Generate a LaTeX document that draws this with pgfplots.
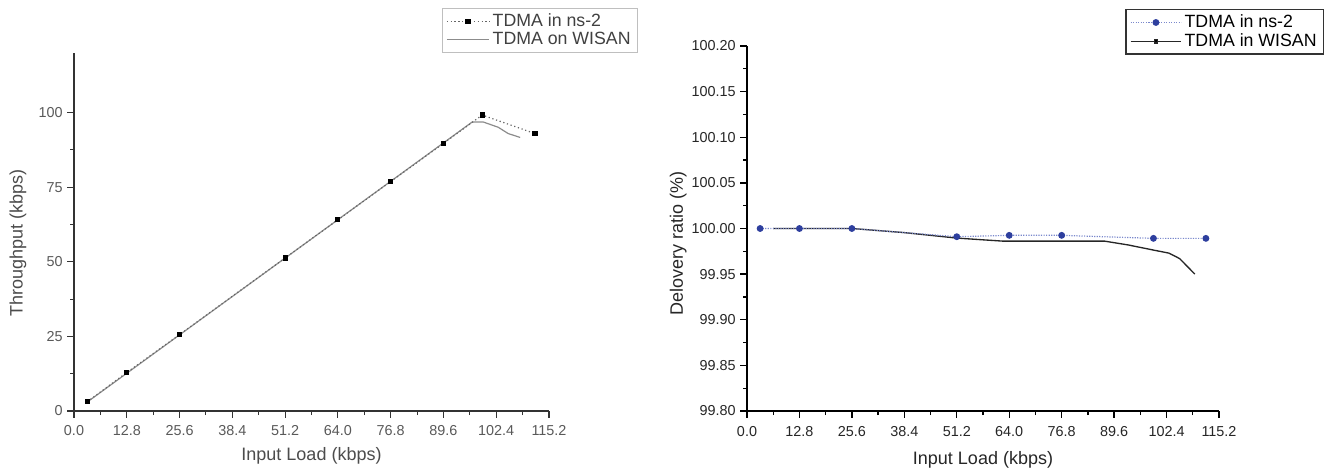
\documentclass[border=0pt]{standalone}
\usepackage{fontspec}
\setmainfont{Liberation Sans}
\usepackage{pgfplots}
\pgfplotsset{compat=1.18}
\definecolor{nsblue}{HTML}{2E3F9E}
\definecolor{nsbluel}{HTML}{7A88CC}
\begin{document}
\begin{tikzpicture}
\useasboundingbox (0,0) rectangle (1001.25pt,354pt);
% ---------------- left panel ----------------
\begin{axis}[
  at={(55.5pt,45.75pt)}, anchor=south west,
  scale only axis, width=356.25pt, height=268.5pt,
  xmin=0, xmax=115.2, ymin=0, ymax=120,
  axis lines=left, axis line style={-, draw=black!80, line width=0.8pt},
  tick align=outside, major tick length=5pt, minor tick length=3pt,
  every tick/.style={draw=black!80, line width=0.8pt},
  xtick={0,12.8,25.6,38.4,51.2,64,76.8,89.6,102.4,115.2},
  xticklabels={0.0,12.8,25.6,38.4,51.2,64.0,76.8,89.6,102.4,115.2},
  minor x tick num=1,
  ytick={0,25,50,75,100}, yticklabels={0,25,50,75,100},
  minor y tick num=1,
  ticklabel style={font=\fontsize{10.8}{12}\selectfont, text=black!65},
  xticklabel style={yshift=-2pt},
  xlabel={Input Load (kbps)}, ylabel={Throughput (kbps)},
  xlabel style={at={(axis description cs:0.5,0)}, anchor=center, yshift=-34pt, font=\fontsize{13.5}{16}\selectfont, text=black!70},
  ylabel style={at={(axis description cs:-0.118,0.469)}, anchor=center, font=\fontsize{13.5}{16}\selectfont, text=black!70},
  legend style={at={(1.187,1.126)}, anchor=north east, draw=black!25, line width=0.8pt,
    font=\fontsize{13.3}{15}\selectfont, text=black!75, inner xsep=3pt, inner ysep=2pt,
    row sep=-1pt},
  legend cell align=left,
  legend image code/.code={\draw[mark repeat=2,mark phase=2,#1] plot coordinates {(0pt,0pt) (16pt,0pt) (32pt,0pt)};},
]
\addplot[black!45, line width=0.9pt, forget plot] coordinates {
 (3.2,3.0) (96.6,96.9) (99.2,96.9) (102.9,95.1) (105.3,93.0) (108.2,91.7)
};
\addplot[black!60, dotted, line width=0.9pt, mark=square*, mark size=1.5pt,
  mark options={solid, fill=black, draw=black}, forget plot] coordinates {
 (3.2,3.1) (12.8,12.9) (25.6,25.6) (51.2,51.3) (64,64.1) (76.8,76.9) (89.6,89.7) (99.0,99.2) (111.8,93.0)
};
\addlegendimage{black!60, dotted, line width=0.9pt, mark=square*, mark size=1.5pt, mark options={solid, fill=black, draw=black}}
\addlegendentry{TDMA in ns-2}
\addlegendimage{black!45, line width=0.9pt}
\addlegendentry{TDMA on WISAN}
\end{axis}
% ---------------- right panel ----------------
\begin{axis}[
  at={(560.25pt,45.75pt)}, anchor=south west,
  scale only axis, width=354pt, height=273.75pt,
  xmin=0, xmax=115.2, ymin=99.8, ymax=100.2,
  axis lines=left, axis line style={-, draw=black, line width=1pt},
  tick align=outside, major tick length=5pt, minor tick length=3pt,
  every tick/.style={draw=black, line width=1pt},
  xtick={0,12.8,25.6,38.4,51.2,64,76.8,89.6,102.4,115.2},
  xticklabels={0.0,12.8,25.6,38.4,51.2,64.0,76.8,89.6,102.4,115.2},
  minor x tick num=1,
  ytick={99.8,99.85,99.9,99.95,100,100.05,100.1,100.15,100.2},
  yticklabels={99.80,99.85,99.90,99.95,100.00,100.05,100.10,100.15,100.20},
  scaled y ticks=false,
  minor y tick num=1,
  ticklabel style={font=\fontsize{10.8}{12}\selectfont, text=black!85},
  xticklabel style={yshift=-3pt},
  xlabel={Input Load (kbps)}, ylabel={Delovery ratio (\%)},
  xlabel style={at={(axis description cs:0.5,0)}, anchor=center, yshift=-37pt, font=\fontsize{13.5}{16}\selectfont, text=black!85},
  ylabel style={at={(axis description cs:-0.146,0.46)}, anchor=center, font=\fontsize{13.5}{16}\selectfont, text=black!85},
  legend style={at={(1.2225,1.1014)}, anchor=north east, draw=black!80, line width=1.1pt,
    font=\fontsize{13.3}{15}\selectfont, text=black, inner xsep=3pt, inner ysep=2pt,
    row sep=-1pt},
  legend cell align=left,
  legend image code/.code={\draw[mark repeat=2,mark phase=2,#1] plot coordinates {(0pt,0pt) (19pt,0pt) (38pt,0pt)};},
]
\addplot[black!85, line width=1pt, forget plot] coordinates {
 (6.4,100.000) (25.6,100.000) (38.4,99.9955) (51.2,99.9895) (62.3,99.9862) (87.2,99.9862)
 (93.0,99.9820) (99.6,99.9760) (103.0,99.9730) (105.6,99.9670) (109.3,99.9500)
};
\addplot[nsbluel, densely dotted, line width=0.9pt, mark=*, mark size=2.1pt,
  mark options={solid, fill=nsblue, draw=nsblue}, forget plot] coordinates {
 (3.2,100.000) (12.8,100.000) (25.6,100.000) (51.2,99.9910) (64,99.9925) (76.8,99.9925) (99.2,99.9892) (112.0,99.9892)
};
\addlegendimage{nsbluel, densely dotted, line width=0.9pt, mark=*, mark size=2.1pt, mark options={solid, fill=nsblue, draw=nsblue}}
\addlegendentry{TDMA in ns-2}
\addlegendimage{black!85, line width=1pt, mark=square*, mark size=1.3pt, mark options={solid, fill=black}}
\addlegendentry{TDMA in WISAN}
\end{axis}
\end{tikzpicture}
\end{document}
